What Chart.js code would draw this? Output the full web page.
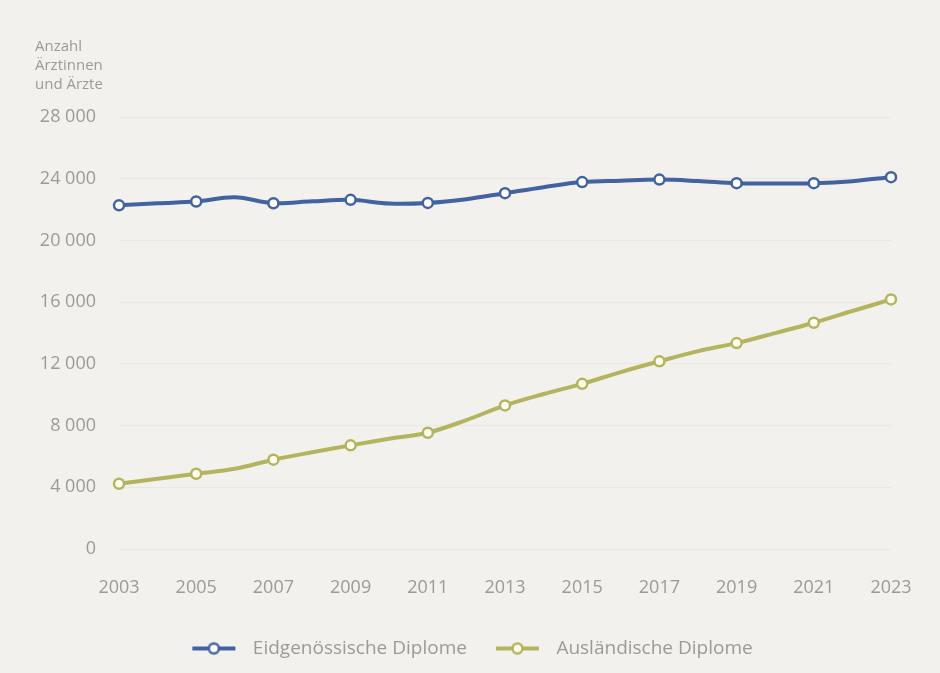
<!DOCTYPE html>
<html>
<head>
<meta charset="utf-8">
<script src="https://cdn.jsdelivr.net/npm/chart.js@4.4.1/dist/chart.umd.min.js"></script>
<style>
  html, body { margin: 0; padding: 0; background: #f3f1ed; }
  #wrap { width: 940px; height: 673px; }
</style>
</head>
<body>
<div id="wrap"><canvas id="c" width="940" height="673"></canvas></div>
<script>
const years = [2003,2004,2005,2006,2007,2008,2009,2010,2011,2012,2013,2014,2015,2016,2017,2018,2019,2020,2021,2022,2023];
const eidgenoessisch = [22280,22420,22530,22800,22420,22540,22640,22400,22440,22680,23070,23460,23790,23880,23950,23860,23720,23700,23720,23850,24110];
const auslaendisch = [4230,4560,4880,5200,5790,6270,6720,7150,7540,8360,9310,10050,10710,11470,12170,12830,13350,14000,14670,15430,16180];
const seriesNames = ['Eidgenössische Diplome', 'Ausländische Diplome'];
const yAxisTitle = ['Anzahl', 'Ärztinnen', 'und Ärzte'];
const yTicks = [0, 4000, 8000, 12000, 16000, 20000, 24000, 28000];

const BLUE = '#4262a0';
const OLIVE = '#b4b45e';
const BG = '#f3f1ed';
const TXT = '#9a9a98';
const FONT = "'Open Sans', 'Noto Sans', sans-serif";

function legendIcon(color, fill) {
  const c = document.createElement('canvas');
  c.width = 70; c.height = 16;
  const g = c.getContext('2d');
  g.strokeStyle = color; g.lineWidth = 4;
  g.beginPath(); g.moveTo(19, 8); g.lineTo(62, 8); g.stroke();
  g.fillStyle = fill; g.lineWidth = 2.5;
  g.beginPath(); g.arc(40.5, 8, 5, 0, Math.PI * 2); g.fill(); g.stroke();
  return c;
}
const icons = [legendIcon(BLUE, '#ffffff'), legendIcon(OLIVE, '#fffff2')];

const bgPlugin = {
  id: 'bg',
  beforeDraw(chart) {
    const ctx = chart.ctx;
    ctx.save();
    ctx.fillStyle = BG;
    ctx.fillRect(0, 0, chart.width, chart.height);
    ctx.restore();
  }
};

function pr(ctx) { return years[ctx.dataIndex] % 2 === 1 ? 5 : 0; }

new Chart(document.getElementById('c'), {
  type: 'line',
  data: {
    labels: years.map(String),
    datasets: [
      {
        label: seriesNames[0], data: eidgenoessisch,
        borderColor: BLUE, borderWidth: 4, tension: 0.35,
        pointRadius: pr, pointHoverRadius: pr,
        pointBackgroundColor: '#ffffff', pointBorderColor: BLUE, pointBorderWidth: 2.5
      },
      {
        label: seriesNames[1], data: auslaendisch,
        borderColor: OLIVE, borderWidth: 4, tension: 0.35,
        pointRadius: pr, pointHoverRadius: pr,
        pointBackgroundColor: '#fffff2', pointBorderColor: OLIVE, pointBorderWidth: 2.5
      }
    ]
  },
  options: {
    responsive: false,
    animation: false,
    layout: { padding: { left: 35, right: 49, top: 28, bottom: 5 } },
    plugins: {
      tooltip: { enabled: false },
      title: {
        display: true, text: yAxisTitle, align: 'start', color: TXT,
        font: { family: FONT, size: 15, weight: 'normal', lineHeight: 1.27 },
        padding: { top: 9, bottom: 23 }
      },
      legend: {
        position: 'bottom',
        labels: {
          usePointStyle: true, pointStyleWidth: 70, color: TXT, padding: 10,
          font: { family: FONT, size: 19 },
          generateLabels(chart) {
            return chart.data.datasets.map((d, i) => ({
              text: d.label, pointStyle: icons[i], datasetIndex: i,
              fontColor: TXT, lineWidth: 0, strokeStyle: 'transparent', fillStyle: 'transparent', hidden: false
            }));
          }
        }
      }
    },
    scales: {
      x: {
        grid: { display: false, drawTicks: false },
        border: { display: false },
        ticks: {
          autoSkip: false, maxRotation: 0, padding: 28, color: TXT,
          font: { family: FONT, size: 18 },
          callback(v, i) { return years[i] % 2 === 1 ? String(years[i]) : ''; }
        },
        afterFit(s) { s.height = 80; }
      },
      y: {
        min: 0, max: 28000,
        grid: { color: 'rgba(0,0,0,0.035)', drawTicks: false, lineWidth: 1 },
        border: { display: false },
        afterBuildTicks(s) { s.ticks = yTicks.map(v => ({ value: v })); },
        ticks: {
          padding: 23, color: TXT,
          font: { family: FONT, size: 18 },
          callback(v) { return v === 0 ? '0' : String(v).replace(/\B(?=(\d{3})+(?!\d))/g, ' '); }
        },
        afterFit(s) { s.width = 84; }
      }
    }
  },
  plugins: [bgPlugin]
});
</script>
</body>
</html>
